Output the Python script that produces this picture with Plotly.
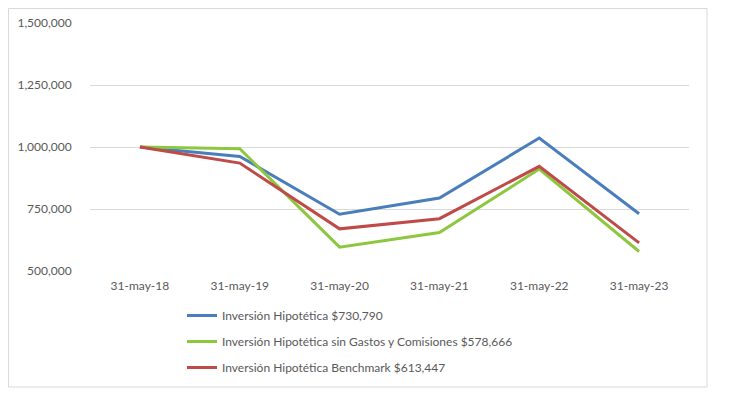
import plotly.graph_objects as go

categories = ["31-may-18", "31-may-19", "31-may-20", "31-may-21", "31-may-22", "31-may-23"]
serie_fondo = [1000000, 962000, 729000, 794000, 1036000, 730790]
serie_sin_gastos = [1000000, 993000, 596000, 655000, 911000, 578666]
serie_benchmark = [1000000, 935000, 670000, 711000, 922000, 613447]
names = [
    "Inversión Hipotética $730,790",
    "Inversión Hipotética sin Gastos y Comisiones $578,666",
    "Inversión Hipotética Benchmark $613,447",
]
colors = ["#4A7EBB", "#8DC63F", "#BE4B48"]
ytick_vals = [500000, 750000, 1000000, 1250000, 1500000]
ytick_text = ["500,000", "750,000", "1,000,000", "1,250,000", "1,500,000"]

# page body has an 8px offset
OFF = 8
W, H = 729 - OFF, 405 - OFF
L, R, T, B = 90 - OFF, 689 - OFF, 23 - OFF, 271 - OFF

fig = go.Figure()
for i, (vals, nm, c) in enumerate(zip([serie_fondo, serie_sin_gastos, serie_benchmark], names, colors)):
    fig.add_trace(go.Scatter(x=categories, y=vals, mode="lines", name=nm,
                             line=dict(color=c, width=3), legendgroup=f"g{i}"))

pw, ph = R - L, B - T
def px(x): return (x - OFF - L) / pw
def py(y): return (B - (y - OFF)) / ph

fig.add_shape(type="rect", xref="paper", yref="paper",
              x0=px(8.5), x1=px(707), y0=py(387), y1=py(8.5),
              line=dict(color="#D9D9D9", width=1), layer="below")

fig.update_layout(
    width=W, height=H,
    margin=dict(l=L, r=W - R, t=T, b=H - B, autoexpand=False),
    plot_bgcolor="white", paper_bgcolor="white",
    font=dict(family="Lato, Liberation Sans, sans-serif", size=12, color="#595959"),
    showlegend=True,
    legend=dict(x=px(182), y=py(301), xanchor="left", yanchor="top",
                orientation="v", tracegroupgap=7, itemwidth=30,
                font=dict(size=12, color="#595959"), bgcolor="rgba(0,0,0,0)"),
    xaxis=dict(type="category", range=[-0.5, 5.5], showgrid=False, showline=False,
               zeroline=False, ticks="outside", ticklen=4, tickcolor="rgba(0,0,0,0)",
               tickfont=dict(size=12, color="#595959")),
    yaxis=dict(range=[500000, 1500000], tickvals=ytick_vals, ticktext=ytick_text,
               showgrid=True, gridcolor="#D9D9D9", gridwidth=1, zeroline=False,
               showline=False, ticks="outside", ticklen=15, tickcolor="rgba(0,0,0,0)",
               tickfont=dict(size=12, color="#595959")),
)

fig.write_html("out.html")
